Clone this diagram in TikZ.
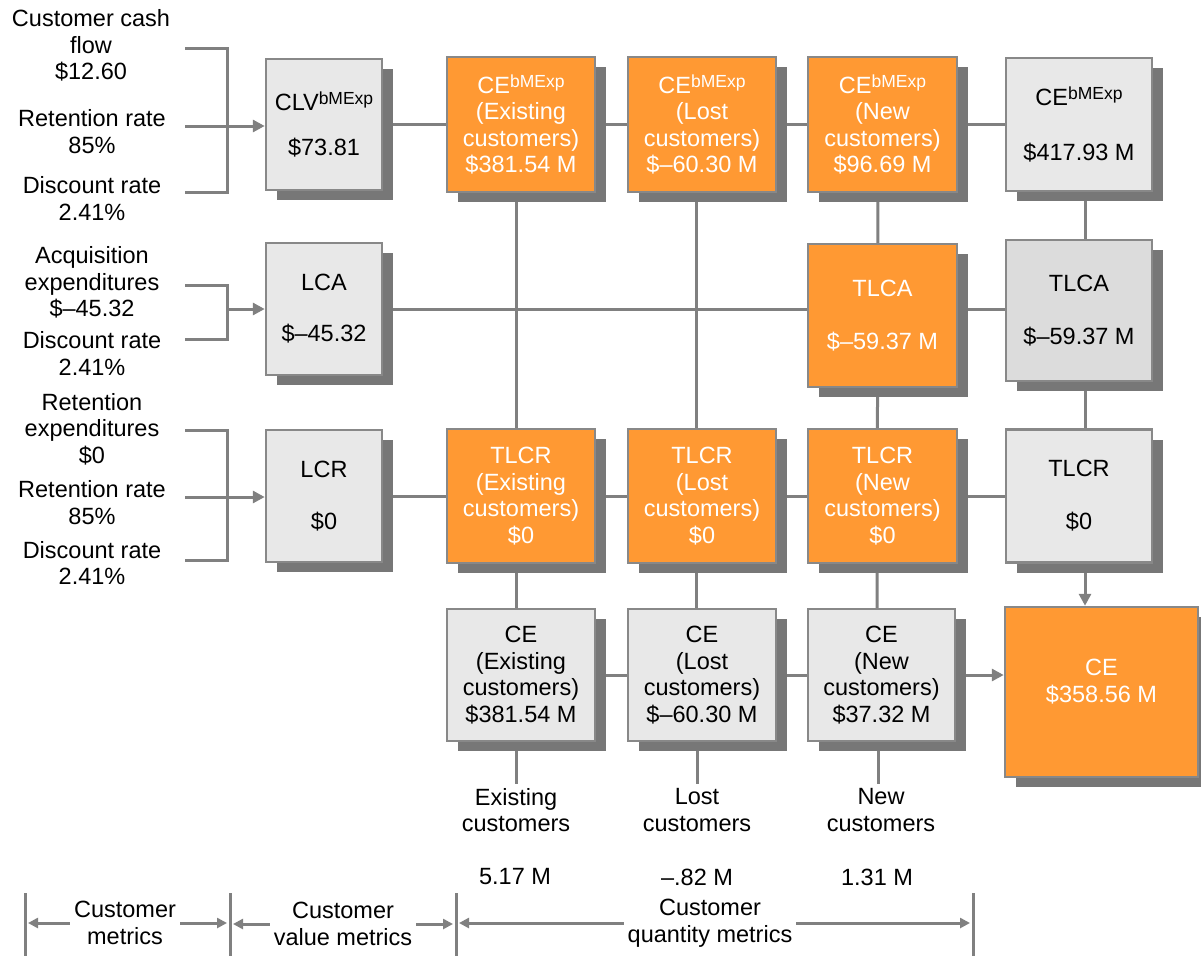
\documentclass[tikz,border=0pt]{standalone}
\usepackage{fontspec}
\setmainfont{Liberation Sans}
\usetikzlibrary{shadows,backgrounds,arrows.meta,calc}
\definecolor{org}{HTML}{FF9933}
\definecolor{boxg}{HTML}{E8E8E8}
\definecolor{boxd}{HTML}{DCDCDC}
\definecolor{edgec}{HTML}{888888}
\definecolor{shad}{HTML}{777777}
\definecolor{lnc}{HTML}{808080}
\newcommand{\mysup}[1]{\raisebox{5.5pt}{\fontsize{17.5}{17.5}\selectfont #1}}
\tikzset{
 box/.style={draw=edgec, line width=2.5pt, align=center, inner sep=2pt,
   drop shadow={shadow xshift=11pt, shadow yshift=-10pt, fill=shad, opacity=1, draw=none}},
 gbox/.style={box, fill=boxg, text=black},
 dbox/.style={box, fill=boxd, text=black},
 obox/.style={box, fill=org, text=white},
 sz/.style 2 args={minimum width=#1pt, minimum height=#2pt},
 conn/.style={draw=lnc, line width=3pt},
 arr/.style={conn, -{Triangle[length=12pt,width=12pt]}},
 sarr/.style={conn, -{Triangle[length=10pt,width=10pt]}},
 lbl/.style={align=center, inner sep=4pt},
}
\begin{document}
\begin{tikzpicture}[x=1pt,y=-1pt,font=\fontsize{23.5}{26.5}\selectfont]
\useasboundingbox (0,0) rectangle (1201,956);

% left input texts
\node[lbl] (t1) at (91,45.5) {Customer cash\\flow\\\$12.60};
\node[lbl] (t2) at (92,131.5) {Retention rate\\85\%};
\node[lbl] (t3) at (92,198.5) {Discount rate\\2.41\%};
\node[lbl] (t4) at (92,282.5) {Acquisition\\expenditures\\\$–45.32};
\node[lbl] (t5) at (92,353.5) {Discount rate\\2.41\%};
\node[lbl] (t6) at (92,429) {Retention\\expenditures\\\$0};
\node[lbl] (t7) at (92,502.5) {Retention rate\\85\%};
\node[lbl] (t8) at (92,563) {Discount rate\\2.41\%};

% column 1
\node[gbox, sz={116}{131}] (clv) at (324,124.5) {CLV\mysup{bMExp}\\[18.5pt]\$73.81};
\node[gbox, sz={116}{132}] (lca) at (324,309) {LCA\\[24.5pt]\$–45.32};
\node[gbox, sz={116}{132}] (lcr) at (324,496) {LCR\\[25.5pt]\$0};

% row 1
\node[obox, sz={148}{135}] (ce1x) at (521,124.5) {CE\mysup{bMExp}\\(Existing\\customers)\\\$381.54 M};
\node[obox, sz={148}{135}] (ce1l) at (702,124.5) {CE\mysup{bMExp}\\(Lost\\customers)\\\$–60.30 M};
\node[obox, sz={149}{135}] (ce1n) at (882.5,124.5) {CE\mysup{bMExp}\\(New\\customers)\\\$96.69 M};
\node[gbox, sz={146}{133}] (ce1t) at (1079,124.5) {CE\mysup{bMExp}\\[28.5pt]\$417.93 M};

% row 2
\node[obox, sz={149}{143}] (tlcan) at (882.5,315.5) {TLCA\\[26.5pt]\$–59.37 M};
\node[dbox, sz={146}{141}] (tlcat) at (1079,310.5) {TLCA\\[26.5pt]\$–59.37 M};

% row 3
\node[obox, sz={148}{134}] (tlcrx) at (521,496) {TLCR\\(Existing\\customers)\\\$0};
\node[obox, sz={148}{134}] (tlcrl) at (702,496) {TLCR\\(Lost\\customers)\\\$0};
\node[obox, sz={149}{134}] (tlcrn) at (882.5,496) {TLCR\\(New\\customers)\\\$0};
\node[gbox, sz={146}{133}] (tlcrt) at (1079,496) {TLCR\\[26.5pt]\$0};

% row 4
\node[gbox, sz={148}{132}] (cex) at (521,675) {CE\\(Existing\\customers)\\\$381.54 M};
\node[gbox, sz={148}{132}] (cel) at (702,675) {CE\\(Lost\\customers)\\\$–60.30 M};
\node[gbox, sz={147}{132}] (cen) at (881.5,675) {CE\\(New\\customers)\\\$37.32 M};
\node[obox, sz={193}{170}] (cetot) at (1101.5,692) {CE\\\$358.56 M\\[-4pt]\rule{0pt}{0pt}};

% bottom labels
\node[lbl] (lblx) at (516,810) {Existing\\customers};
\node[lbl] (lbll) at (697,810) {Lost\\customers};
\node[lbl] (lbln) at (881,810) {New\\customers};
\node[lbl] (nx) at (515,877) {5.17 M};
\node[lbl] (nl) at (697,877) {–.82 M};
\node[lbl] (nn) at (877,877) {1.31 M};

% scale labels
\node[lbl] (sm) at (125,923) {Customer\\metrics};
\node[lbl] (sv) at (343,924) {Customer\\value metrics};
\node[lbl] (sq) at (710,923) {Customer\\quantity metrics};

% coordinates
\coordinate (bv) at (227,0);
\coordinate (b1t) at (185,48);
\coordinate (b1b) at (185,192);
\coordinate (b1m) at (185,126);
\coordinate (b2t) at (185,285);
\coordinate (b2b) at (185,339);
\coordinate (b3t) at (185,430);
\coordinate (b3b) at (185,560);
\coordinate (b3m) at (185,497);
\coordinate (k1) at (25,893);
\coordinate (k2) at (230,893);
\coordinate (k3) at (456,893);
\coordinate (k4) at (973,893);
\coordinate (kb) at (0,956);

\begin{scope}[on background layer]
\fill[white] (0,0) rectangle (1201,956);
% brackets
\draw[conn] (b1t) -- (b1t -| bv) -- (b1b -| bv) -- (b1b);
\draw[arr] (b1m) -- (b1m -| clv.west);
\draw[conn] (b2t) -- (b2t -| bv) -- (b2b -| bv) -- (b2b);
\draw[arr] (bv |- lca) -- (lca.west);
\draw[conn] (b3t) -- (b3t -| bv) -- (b3b -| bv) -- (b3b);
\draw[arr] (b3m) -- (b3m -| lcr.west);

% horizontal rows
\draw[conn] (clv) -- (ce1x) -- (ce1l) -- (ce1n) -- (ce1t);
\draw[conn] (lca) -- (lca -| tlcat);
\draw[conn] (lcr) -- (tlcrt);
\draw[conn] (cex) -- (cel) -- (cen);
\draw[arr] (cen.east) -- (cen -| cetot.west);

% verticals
\draw[conn] ([xshift=-5pt]ce1x.center) -- ([xshift=-5pt]cex.center);
\draw[conn] ([xshift=-5pt]cex.center) -- ([xshift=-5pt]cex.center |- lblx.north);
\draw[conn] ([xshift=-6pt]ce1l.center) -- ([xshift=-6pt]cel.center);
\draw[conn] ([xshift=-5pt]cel.center) -- ([xshift=-5pt]cel.center |- lbll.north);
\draw[conn] ([xshift=-4.5pt]ce1n.center) -- ([xshift=-4.5pt]cen.center);
\draw[conn] ([xshift=-3.5pt]cen.center) -- ([xshift=-3.5pt]cen.center |- lbln.north);
\draw[conn] ([xshift=6pt]ce1t.center) -- ([xshift=6pt]tlcrt.center);
\draw[arr] ([xshift=6pt]tlcrt.south) -- ([xshift=6pt]tlcrt.south |- cetot.north);

% bottom scale
\draw[conn] (k1) -- (k1 |- kb);
\draw[conn] (k2) -- (k2 |- kb);
\draw[conn] (k3) -- (k3 |- kb);
\draw[conn] (k4) -- (k4 |- kb);
\draw[sarr] (sm.west) -- ([xshift=3pt]k1 |- sm.west);
\draw[sarr] (sm.east) -- ([xshift=-3pt]k2 |- sm.east);
\draw[sarr] (sv.west) -- ([xshift=3pt]k2 |- sv.west);
\draw[sarr] (sv.east) -- ([xshift=-3pt]k3 |- sv.east);
\draw[sarr] (sq.west) -- ([xshift=3pt]k3 |- sq.west);
\draw[sarr] (sq.east) -- ([xshift=-3pt]k4 |- sq.east);
\end{scope}
\end{tikzpicture}
\end{document}
